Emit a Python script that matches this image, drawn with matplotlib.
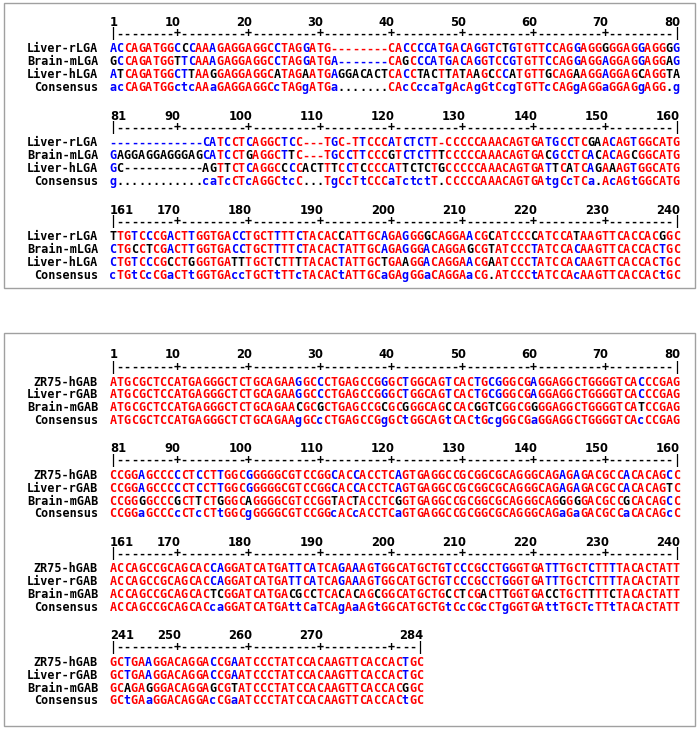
import matplotlib.pyplot as plt
from matplotlib.patches import Rectangle

# sequences, one 80-column block per string
top_names = ["Liver-rLGA", "Brain-mLGA", "Liver-hLGA"]
top_seqs = [
    "ACCAGATGGCCCAAAGAGGAGGCCTAGGATG--------CACCCCATGACAGGTCTGTGTTCCAGGAGGGGGAGGAGGGG"
    "-------------CATCCTCAGGCTCC---TGC-TTCCCATCTCTT-CCCCCAAACAGTGATGCCTCGAACAGTGGCATG"
    "TTGTCCCGACTTGGTGACCTGCTTTTCTACACCATTGCAGAGGGGCAGGAACGCATCCCCATCCATAAGTTCACCACGGC",
    "GCCAGATGGTTCAAAGAGGAGGCCTAGGATGA-------CAGCCCATGACAGGTCCGTGTTCCAGGAGGAGGAGGAGGAG"
    "GAGGAGGAGGGAGCATCCTGAGGCTTC---TGCCTTCCCGTCTCTTTCCCCCAAACAGTGACGCCTCACACAGCGGCATG"
    "CTGCCTCGACTTGGTGACCTGCTTTTCTACACTATTGCAGAGGGACAGGAGCGTATCCCTATCCACAAGTTCACCACTGC",
    "ATCAGATGGCTTAAGGAGGAGGCATAGAATGAGGACACTCACCTACTTATAAGCCCATGTTGCAGAAGGAGGAGCAGGTA"
    "GC-----------AGTTCTCAGGCCCCACTTTCCTCCCCATTCTCTGCCCCCAAACAGTGATTCATCAGAAAGTGGCATG"
    "CTGTCCCGCCTGGGTGATTTGCTCTTTTACACTATTGCTGAAGGACAGGAACGAATCCCTATCCACAAGTTCACCACTGC",
]
top_blocks = [(1, 80, [1, 10, 20, 30, 40, 50, 60, 70, 80]),
              (81, 160, [81, 90, 100, 110, 120, 130, 140, 150, 160]),
              (161, 240, [161, 170, 180, 190, 200, 210, 220, 230, 240])]

bottom_names = ["ZR75-hGAB", "Liver-rGAB", "Brain-mGAB"]
bottom_seqs = [
    "ATGCGCTCCATGAGGGCTCTGCAGAAGGCCCTGAGCCGGGCTGGCAGTCACTGCGGGCGAGGAGGCTGGGGTCACCCGAG"
    "CCGGAGCCCCCTCCTTGGCGGGGGCGTCCGGCACCACCTCAGTGAGGCCGCGGCGCAGGGCAGAGAGACGCCACACAGCC"
    "ACCAGCCGCAGCACCAGGATCATGATTCATCAGAAAGTGGCATGCTGTCCCGCCTGGGTGATTTGCTCTTTTACACTATT"
    "GCTGAAGGACAGGACCGAATCCCTATCCACAAGTTCACCACTGC",
    "ATGCGCTCCATGAGGGCTCTGCAGAAGGCCCTGAGCCGGGCTGGCAGTCACTGCGGGCGAGGAGGCTGGGGTCACCCGAG"
    "CCGGAGCCCCCTCCTTGGCGGGGGCGTCCGGCACCACCTCAGTGAGGCCGCGGCGCAGGGCAGAGAGACGCCACACAGTC"
    "ACCAGCCGCAGCACCAGGATCATGATTCATCAGAAAGTGGCATGCTGTCCCGCCTGGGTGATTTGCTCTTTTACACTATT"
    "GCTGAAGGACAGGACCGAATCCCTATCCACAAGTTCACCACTGC",
    "ATGCGCTCCATGAGGGCTCTGCAGAACGCGCTGAGCCGCGCGGGCAGCCACGGTCGGCGGGGAGGCTGGGGTCATCCGAG"
    "CCGGGGCCCGCTTCTGGGCAGGGGCGTCCGGTACTACCTCGGTGAGGCCGCGGCGCAGGGCAGGGGGACGCCGCACAGCC"
    "ACCAGCCGCAGCACTCGGATCATGACGCCTCACACAGCGGCATGCTGCCTCGACTTGGTGACCTGCTTTTCTACACTATT"
    "GCAGAGGGACAGGAGCGTATCCCTATCCACAAGTTCACCACGGC",
]
bottom_blocks = [(1, 80, [1, 10, 20, 30, 40, 50, 60, 70, 80]),
                 (81, 160, [81, 90, 100, 110, 120, 130, 140, 150, 160]),
                 (161, 240, [161, 170, 180, 190, 200, 210, 220, 230, 240]),
                 (241, 284, [241, 250, 260, 270, 284])]

RED = "#ff0000"
BLUE = "#0000ff"
BLACK = "#000000"
MONO = dict(family="DejaVu Sans Mono", weight="bold", size=8.5)

X0 = 113.0   # centre of first column of a block
DX = 7.13    # column pitch
LABEL_X = 98


def consensus(seqs):
    out = ""
    for col in zip(*seqs):
        best = max(set(col), key=col.count)
        n = col.count(best)
        if best != "-" and n == len(col):
            out += best
        elif best != "-" and n >= 2:
            out += best.lower()
        else:
            out += "."
    return out


def row_colors(seq, cons):
    # gaps keep the colour of the residue before them
    cols = []
    cur = BLACK
    for r, c in zip(seq, cons):
        if r != "-":
            if c.isupper() and r == c:
                cur = RED
            elif c.islower() and r.lower() == c:
                cur = BLUE
            else:
                cur = BLACK
        cols.append(cur)
    return cols


def draw_panel(ax, names, seqs, blocks, y0, period):
    cons = consensus(seqs)
    rows = [(n, s, row_colors(s, cons)) for n, s in zip(names, seqs)]
    cons_cols = [RED if r.isupper() else (BLUE if r.islower() else BLACK) for r in cons]
    rows.append(("Consensus", cons, cons_cols))
    for b, (s, e, ticks) in enumerate(blocks):
        yb = y0 + b * period
        # position numbers
        for t in ticks:
            if t == s:
                ax.text(X0 + (t - s) * DX - DX / 2 + 0.5, yb, str(t), ha="left", va="center",
                        fontsize=8.3, weight="bold", color=BLACK)
            else:
                ax.text(X0 + (t - s) * DX + DX / 2, yb, str(t), ha="right", va="center",
                        fontsize=8.3, weight="bold", color=BLACK)
        # ruler
        for p in range(s, e + 1):
            ch = "|" if p in (s, e) else ("+" if p % 10 == 0 else "-")
            ax.text(X0 + (p - s) * DX, yb + 12, ch, ha="center", va="center",
                    color=BLACK, **MONO)
        # sequence rows
        for i, (name, seq, cols) in enumerate(rows):
            y = yb + 27 + i * 12.8
            ax.text(LABEL_X, y, name, ha="right", va="center", color=BLACK, **MONO)
            for p in range(s, e + 1):
                ax.text(X0 + (p - s) * DX, y, seq[p - 1], ha="center", va="center",
                        color=cols[p - 1], **MONO)


fig = plt.figure(figsize=(6.99, 7.30), dpi=100)
ax = fig.add_axes([0, 0, 1, 1])
ax.set_xlim(0, 699)
ax.set_ylim(730, 0)
ax.axis("off")

ax.add_patch(Rectangle((4, 3), 691, 285, fill=False, edgecolor="#a0a0a0", lw=1))
ax.add_patch(Rectangle((4, 333), 691, 393, fill=False, edgecolor="#a0a0a0", lw=1))

draw_panel(ax, top_names, top_seqs, top_blocks, 22, 94)
draw_panel(ax, bottom_names, bottom_seqs, bottom_blocks, 355, 93.5)

fig.savefig("out.png", dpi=100)
